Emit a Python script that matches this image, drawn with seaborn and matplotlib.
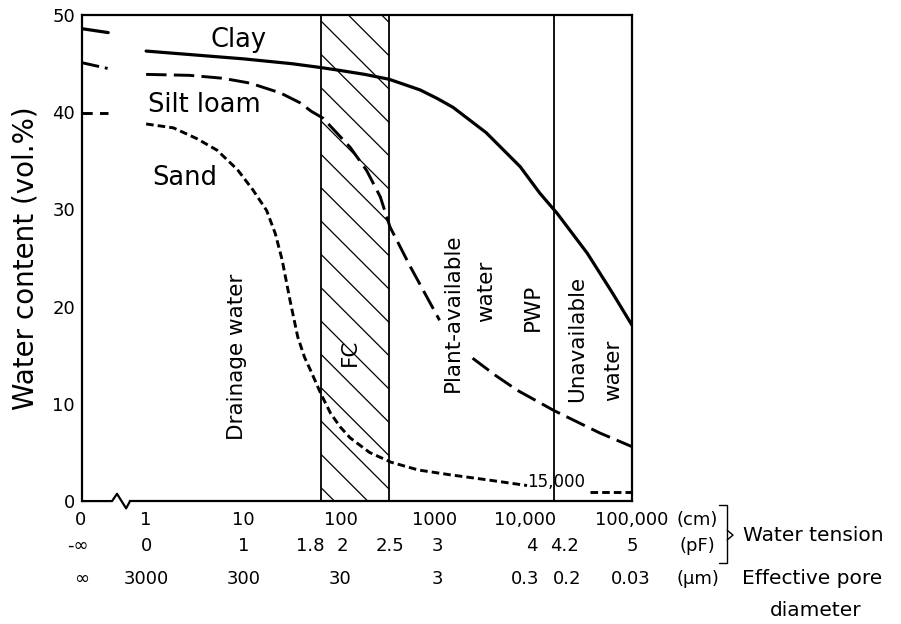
import numpy as np
import pandas as pd
import matplotlib
matplotlib.use("Agg")
import matplotlib.pyplot as plt
import seaborn as sns

# water tension in pF (log10 cm), water content vol.%
clay_pf = [0, 0.5, 1.0, 1.5, 1.8, 2.0, 2.25, 2.5, 2.82, 3.0, 3.16, 3.5, 3.85, 4.05, 4.23, 4.54, 4.8, 5.0]
clay = [46.3, 45.9, 45.5, 45.0, 44.6, 44.3, 43.9, 43.4, 42.3, 41.4, 40.5, 37.9, 34.4, 31.7, 29.6, 25.5, 21.4, 18.1]

silt_pf_a = [0, 0.45, 0.79, 1.07, 1.38, 1.58, 1.7, 1.82, 1.96, 2.1, 2.27, 2.41, 2.51, 2.72, 3.02]
silt_a = [43.9, 43.8, 43.5, 43.0, 42.0, 41.0, 40.1, 39.4, 37.9, 36.4, 34.0, 31.3, 28.2, 24.1, 18.6]
silt_pf_b = [3.36, 3.6, 3.82, 4.2, 4.67, 5.0]
silt_b = [14.7, 12.9, 11.4, 9.3, 7.0, 5.6]

sand_pf_a = [0, 0.28, 0.52, 0.73, 0.94, 1.10, 1.24, 1.33, 1.40, 1.48, 1.56, 1.63, 1.69,
             1.8, 1.9, 2.0, 2.1, 2.3, 2.52, 2.8, 3.13, 3.5, 3.92]
sand_a = [38.8, 38.4, 37.3, 36.1, 34.1, 32.0, 29.9, 27.5, 24.8, 20.7, 16.9, 14.8, 13.5,
          11.0, 9.0, 7.6, 6.5, 5.0, 4.0, 3.2, 2.7, 2.2, 1.6]
sand_pf_b = [4.57, 5.0]
sand_b = [0.9, 0.9]

# saturated values drawn at the broken part of the axis (pF -> -inf)
sat_pf = [-0.66, -0.39]
clay_sat = [48.6, 48.2]
silt_sat = [45.1, 44.5]
sand_sat = [39.9, 39.9]

# boundaries: field capacity range and permanent wilting point
fc_lo, fc_hi, pwp = 1.8, 2.5, 4.2

row_cm = [(-0.68, "0"), (0, "1"), (1, "10"), (2, "100"), (2.97, "1000"),
          (3.9, "10,000"), (5.0, "100,000"), (5.67, "(cm)")]
row_pf = [(-0.70, "-\u221e"), (0, "0"), (1, "1"), (1.69, "1.8"), (2.02, "2"), (2.51, "2.5"),
          (3, "3"), (3.97, "4"), (4.3, "4.2"), (5, "5"), (5.67, "(pF)")]
row_um = [(-0.67, "\u221e"), (0, "3000"), (1, "300"), (2, "30"), (3, "3"), (3.9, "0.3"),
          (4.33, "0.2"), (4.99, "0.03"), (5.68, "(\u00b5m)")]

sns.set_style("white")
plt.rcParams["font.family"] = ["DejaVu Sans"]
plt.rcParams["hatch.linewidth"] = 0.9
plt.rcParams["text.color"] = "black"
plt.rcParams["axes.labelcolor"] = "black"
plt.rcParams["xtick.color"] = "black"
plt.rcParams["ytick.color"] = "black"

fig = plt.figure(figsize=(9.01, 6.24), dpi=100)
ax = fig.add_axes([0.091, 0.197, 0.6104, 0.7788])

k = "black"
sns.lineplot(x=clay_pf, y=clay, color=k, lw=2.3, ax=ax)
sns.lineplot(x=sat_pf, y=clay_sat, color=k, lw=2.3, ax=ax)
for xs, ys in [(silt_pf_a, silt_a), (silt_pf_b, silt_b)]:
    sns.lineplot(x=xs, y=ys, color=k, lw=2.1, linestyle=(0, (7, 2.5)), ax=ax)
sns.lineplot(x=sat_pf, y=silt_sat, color=k, lw=2.1, linestyle=(0, (6, 2, 1, 2)), ax=ax)
for xs, ys in [(sand_pf_a, sand_a), (sand_pf_b, sand_b)]:
    sns.lineplot(x=xs, y=ys, color=k, lw=2.1, linestyle=(0, (2.6, 1.4)), ax=ax)
sns.lineplot(x=sat_pf, y=sand_sat, color=k, lw=2.1, linestyle=(0, (3.5, 2.5)), ax=ax)

# FC band and boundary lines
ax.axvspan(fc_lo, fc_hi, facecolor="none", edgecolor=k, hatch="\\", lw=0)
for xv in (fc_lo, fc_hi, pwp):
    ax.axvline(xv, color=k, lw=1.3)

ax.set_xlim(-0.66, 5.0)
ax.set_ylim(0, 50)
ax.set_xticks([0, 1, 2, 3, 4])
ax.set_yticks([0, 10, 20, 30, 40, 50])
ax.tick_params(axis="x", direction="in", length=8, width=1.3, labelbottom=False)
ax.tick_params(axis="y", direction="in", length=8, width=1.3, labelsize=13, pad=5)
for s in ax.spines.values():
    s.set_linewidth(1.6)
    s.set_color(k)
ax.spines["bottom"].set_bounds(-0.165, 5.0)
# broken axis near origin
ax.plot([-0.66, -0.35, -0.30, -0.206, -0.165], [0, 0, 0.75, -0.75, 0],
        color=k, lw=1.6, clip_on=False)
ax.set_ylabel("Water content (vol.%)", fontsize=20, labelpad=9)

# curve names
ax.text(0.66, 46.7, "Clay", fontsize=18.5, ha="left", va="baseline")
ax.text(0.02, 40.0, "Silt loam", fontsize=18.5, ha="left", va="baseline")
ax.text(0.06, 32.5, "Sand", fontsize=18.5, ha="left", va="baseline")

# region labels
for x, y, s in [(0.94, 14.8, "Drainage water"), (2.10, 15.3, "FC"),
                (3.16, 19.4, "Plant-available"), (3.50, 21.6, "water"),
                (3.98, 19.9, "PWP"), (4.44, 16.7, "Unavailable"), (4.81, 13.5, "water")]:
    ax.text(x, y, s, fontsize=15.5, rotation=90, ha="center", va="center")
ax.text(4.22, 2.0, "15,000", fontsize=12, ha="center", va="center")

# scale rows beneath the axis
tr = ax.get_xaxis_transform()
for row, yy in [(row_cm, -0.039), (row_pf, -0.093), (row_um, -0.160)]:
    for x, s in row:
        ax.text(x, yy, s, fontsize=13, ha="center", va="center", transform=tr, clip_on=False)

ax.plot([5.90, 5.98, 5.98, 5.90], [-0.008, -0.008, -0.128, -0.128],
        color=k, lw=1.0, transform=tr, clip_on=False)
ax.plot([5.98, 6.04, 5.98], [-0.060, -0.070, -0.080],
        color=k, lw=1.0, transform=tr, clip_on=False)
ax.text(6.14, -0.070, "Water tension", fontsize=14.5, ha="left", va="center", transform=tr)
ax.text(6.13, -0.160, "Effective pore", fontsize=14.5, ha="left", va="center", transform=tr)
ax.text(6.89, -0.226, "diameter", fontsize=14.5, ha="center", va="center", transform=tr)

fig.savefig("out.png", dpi=100)
